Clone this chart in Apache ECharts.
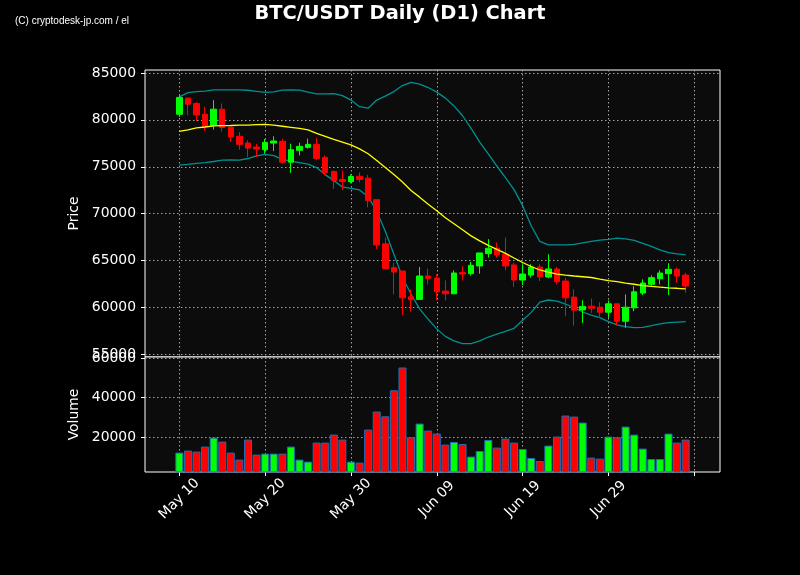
<!DOCTYPE html>
<html><head><meta charset="utf-8">
<script src="https://cdn.jsdelivr.net/npm/echarts@6/dist/echarts.min.js"></script>
<style>html,body{margin:0;padding:0;background:#000;}#c{width:800px;height:575px;}</style>
</head><body><div id="c"></div>
<script>
// Axis categories (with empty padding days on both ends)
const axisDates = ['May 06','May 07','May 08','May 09',
  'May 10','May 11','May 12','May 13','May 14','May 15','May 16','May 17','May 18','May 19',
  'May 20','May 21','May 22','May 23','May 24','May 25','May 26','May 27','May 28','May 29',
  'May 30','May 31','Jun 01','Jun 02','Jun 03','Jun 04','Jun 05','Jun 06','Jun 07','Jun 08',
  'Jun 09','Jun 10','Jun 11','Jun 12','Jun 13','Jun 14','Jun 15','Jun 16','Jun 17','Jun 18',
  'Jun 19','Jun 20','Jun 21','Jun 22','Jun 23','Jun 24','Jun 25','Jun 26','Jun 27','Jun 28',
  'Jun 29','Jun 30','Jul 01','Jul 02','Jul 03','Jul 04','Jul 05','Jul 06','Jul 07','Jul 08',
  'Jul 09','Jul 10','Jul 11','Jul 12'];
// Trading days with data
const candleDates = axisDates.slice(4, 64);
const tickDates = ['May 10','May 20','May 30','Jun 09','Jun 19','Jun 29','Jul 09'];
const labelDates = ['May 10','May 20','May 30','Jun 09','Jun 19','Jun 29'];
const priceTicks = [55000,60000,65000,70000,75000,80000,85000];
const volumeTicks = [20000,40000,60000];

const opens  = [80600,82320,81750,80600,79390,81140,79210,78250,77530,77100,76820,77530,77710,75490,76750,77070,77390,76000,74500,73640,73420,73990,73780,71490,66780,64240,63880,61130,60850,63350,63130,61740,61450,63710,63600,64420,65740,66310,65670,64530,62920,63450,64310,63240,64100,62810,61100,59730,60130,60020,59490,60380,58520,59950,61530,62460,63060,63600,64060,63450];
const closes = [82400,81680,80530,79320,81140,79180,78170,77390,76990,76890,77600,77750,75490,76820,77180,77390,75890,74390,73530,73420,73960,73640,71390,66670,64130,63770,61020,60820,63350,63100,61660,61450,63670,63560,64490,65810,66310,65600,64420,62920,63560,64310,63240,64100,62740,61020,59700,60100,59910,59490,60380,58520,60020,61660,62600,63170,63670,64060,63350,62270];
const lows   = [80320,80500,79890,78820,78960,78750,77640,76820,76030,76030,76390,76670,75320,74350,76210,76930,75710,74070,72640,72530,73240,73350,70670,66210,64060,61390,59170,59530,60780,62450,60740,60740,61450,62880,63380,63600,65310,65310,63960,62200,62380,63170,62810,63100,62450,59060,58060,58340,59410,58880,58880,58090,57810,59590,61310,62270,62460,61310,62630,61560];
const highs  = [82640,82400,81890,81390,82100,81750,79300,78710,77820,77460,77960,78250,78000,77460,77570,78000,78070,76210,74600,74600,74180,74390,74140,71490,67450,64770,63880,61920,64310,64130,63530,62880,63960,64390,64850,65810,67280,66920,67450,64770,64600,64600,64600,65670,64310,63170,61920,60770,60950,60560,60740,60380,61390,62270,62990,63420,63960,64710,64240,63710];
const volumes = [12060,13080,12570,15110,19690,17660,12060,8500,18680,11040,11550,11550,11550,15110,8500,7480,17150,17150,21220,18680,7480,6970,23770,32930,30530,43770,55320,19850,26820,23260,21730,16130,17450,16440,10030,12880,18470,14610,19190,17150,13890,9310,7790,15620,20200,30890,30380,27330,9520,9010,20200,19850,25290,21220,14100,8800,8800,21730,17150,18680];
const midBand = [78780,78940,79140,79240,79350,79390,79400,79430,79450,79500,79530,79430,79320,79210,79100,78940,78570,78250,77920,77640,77340,76910,76390,75670,74920,74170,73370,72460,71760,71010,70310,69560,68920,68280,67630,67100,66610,66190,65760,65270,64790,64360,63990,63770,63560,63450,63350,63270,63190,63020,62860,62760,62600,62470,62330,62240,62170,62090,62040,61980];
const upperBand = [82460,82910,83020,83070,83210,83210,83210,83200,83160,83050,82930,82980,83180,83210,83180,82960,82780,82780,82800,82590,82110,81410,81250,82110,82530,83020,83660,84000,83820,83450,82960,82320,81490,80440,79100,77630,76370,75080,73850,72560,70850,68710,67040,66670,66670,66670,66720,66880,67040,67170,67260,67390,67310,67150,66830,66510,66130,65840,65700,65600];
const lowerBand = [75170,75260,75370,75440,75560,75710,75730,75710,75880,76160,76320,76190,75790,75600,75440,75280,74910,74160,73520,72850,72690,72530,71790,70260,68130,65670,63210,61400,59850,58730,57710,56910,56430,56130,56130,56430,56840,57150,57450,57770,58620,59470,60570,60790,60680,60360,59960,59510,59180,58910,58480,58140,57950,57850,57870,58050,58250,58370,58430,58480];

const UP = '#00ff00', DOWN = '#ff0000';
const idxOf = {};
candleDates.forEach((d, i) => { idxOf[d] = i; });
function align(fn) {
  return axisDates.map(d => (d in idxOf) ? fn(idxOf[d]) : '-');
}
const candleData = align(i => [opens[i], closes[i], lows[i], highs[i]]);
const volData = align(i => ({ value: volumes[i], itemStyle: { color: closes[i] >= opens[i] ? UP : DOWN } }));

const FONT = 'DejaVu Sans';
const txt = { color: '#ffffff', fontFamily: FONT, fontSize: 13.9 };
const gridLine = { show: true, lineStyle: { color: '#a0a0a0', type: [1.5, 2.5], width: 1 } };
const isTick = (i, v) => tickDates.includes(v);
const plain = v => String(Math.round(v));

const chart = echarts.init(document.getElementById('c'), null, { renderer: 'canvas' });
chart.setOption({
  backgroundColor: '#000000',
  animation: false,
  title: {
    text: 'BTC/USDT Daily (D1) Chart', left: 'center', top: -1,
    textStyle: { color: '#ffffff', fontFamily: FONT, fontWeight: 'bold', fontSize: 19.4 }
  },
  graphic: [{
    type: 'text', x: 15, y: 15, scaleX: 0.91,
    style: { text: '(C) cryptodesk-jp.com / el', fill: '#ffffff', font: '11px "Liberation Sans", sans-serif' }
  }],
  grid: [
    { left: 145, top: 70, width: 575, height: 287, show: true, backgroundColor: '#0c0c0c', borderColor: '#ffffff', borderWidth: 1 },
    { left: 145, top: 357, width: 575, height: 115, show: true, backgroundColor: '#0c0c0c', borderColor: '#ffffff', borderWidth: 1 }
  ],
  xAxis: [
    { type: 'category', gridIndex: 0, data: axisDates, boundaryGap: false,
      axisLine: { show: false }, axisTick: { show: false }, axisLabel: { show: false },
      splitLine: Object.assign({ interval: isTick }, gridLine) },
    { type: 'category', gridIndex: 1, data: axisDates, boundaryGap: false,
      axisLine: { show: false },
      axisTick: { show: true, interval: isTick, length: 4, lineStyle: { color: '#ffffff' } },
      axisLabel: Object.assign({ interval: isTick, rotate: 45, margin: 27, align: 'center', verticalAlign: 'middle',
        formatter: v => labelDates.includes(v) ? v : '' }, txt),
      splitLine: Object.assign({ interval: isTick }, gridLine) }
  ],
  yAxis: [
    { type: 'value', gridIndex: 0, min: 54710, max: 85320,
      name: 'Price', nameLocation: 'middle', nameGap: 46, nameRotate: 90,
      nameTextStyle: txt,
      axisLine: { show: false },
      axisTick: { show: true, length: 4, customValues: priceTicks, lineStyle: { color: '#ffffff' } },
      axisLabel: Object.assign({ customValues: priceTicks, margin: 9, formatter: plain }, txt),
      splitLine: gridLine },
    { type: 'value', gridIndex: 1, min: 2200, max: 60660,
      name: 'Volume', nameLocation: 'middle', nameGap: 46, nameRotate: 90,
      nameTextStyle: txt,
      axisLine: { show: false },
      axisTick: { show: true, length: 4, customValues: volumeTicks, lineStyle: { color: '#ffffff' } },
      axisLabel: Object.assign({ customValues: volumeTicks, margin: 9, formatter: plain }, txt),
      splitLine: gridLine }
  ],
  series: [
    { type: 'line', xAxisIndex: 0, yAxisIndex: 0, data: align(i => upperBand[i]), showSymbol: false,
      lineStyle: { color: '#009090', width: 1.3 }, z: 2 },
    { type: 'line', xAxisIndex: 0, yAxisIndex: 0, data: align(i => lowerBand[i]), showSymbol: false,
      lineStyle: { color: '#009090', width: 1.3 }, z: 2 },
    { type: 'candlestick', xAxisIndex: 0, yAxisIndex: 0, data: candleData, barWidth: 6,
      itemStyle: { color: UP, color0: DOWN, borderColor: UP, borderColor0: DOWN, borderWidth: 1 }, z: 3 },
    { type: 'line', xAxisIndex: 0, yAxisIndex: 0, data: align(i => midBand[i]), showSymbol: false,
      lineStyle: { color: '#ffff00', width: 1.3 }, z: 4 },
    { type: 'bar', xAxisIndex: 1, yAxisIndex: 1, data: volData, barWidth: 8,
      itemStyle: { borderColor: '#1f6fb4', borderWidth: 1 } }
  ]
});
</script></body></html>
